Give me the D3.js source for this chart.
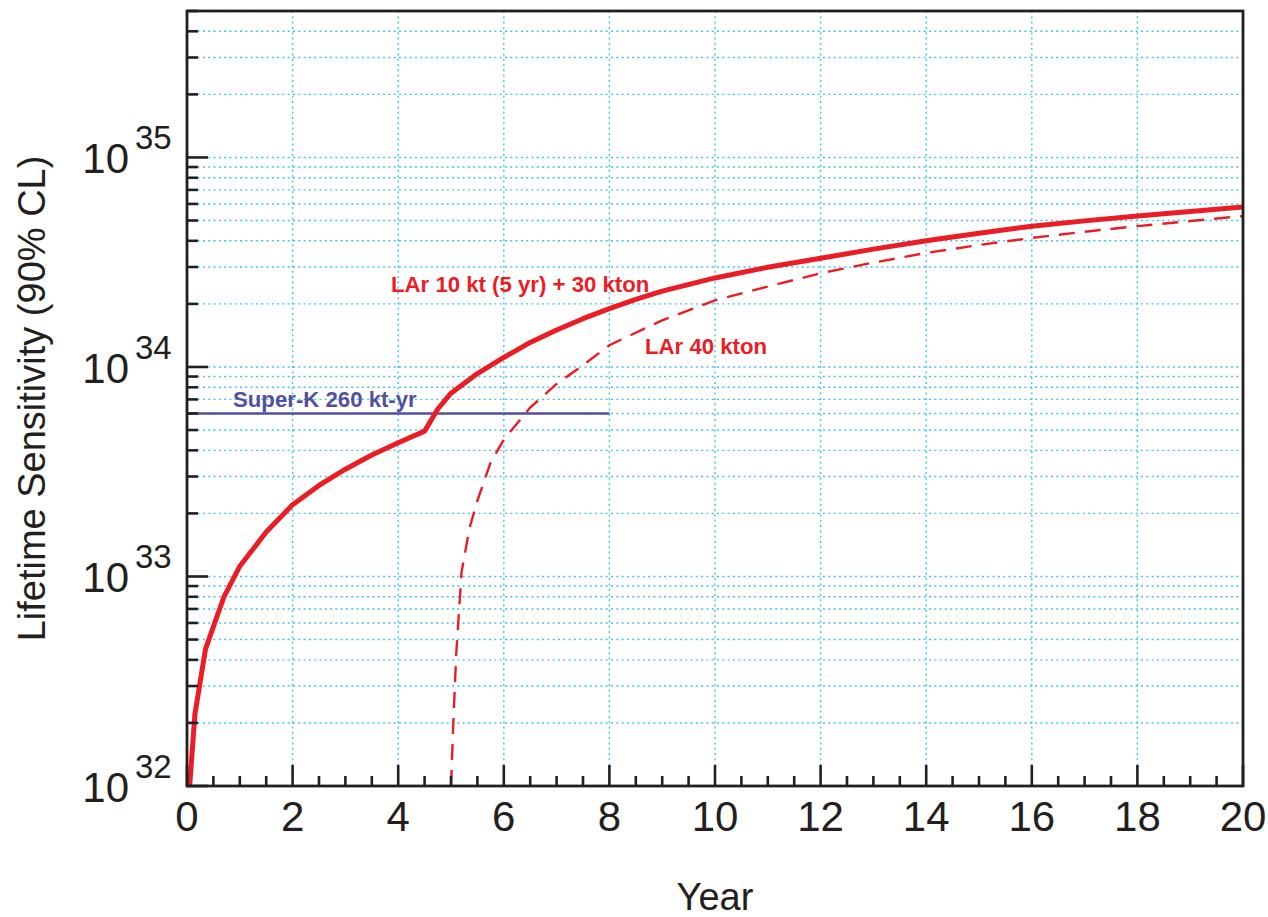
<!DOCTYPE html>
<html>
<head>
<meta charset="utf-8">
<script src="https://cdn.jsdelivr.net/npm/d3@7"></script>
<style>
  html, body { margin: 0; padding: 0; background: #fff; }
  svg { display: block; }
  text { font-family: "Liberation Sans", Arial, Helvetica, sans-serif; }
</style>
</head>
<body>
<svg id="chart" width="1268" height="917"></svg>
<script>
// ---------------- data ----------------
const solidYears  = [0.05, 0.15, 0.35, 0.7, 1.0, 1.5, 2.0, 2.5, 3.0, 3.5, 4.0, 4.5, 4.75, 5.0, 5.5, 6.0, 6.5, 7.0, 7.5, 8.0, 8.5, 9.0, 10, 11, 12, 13, 14, 15, 16, 17, 18, 19, 20];
const solidValues = [1.0e32, 2.2e32, 4.5e32, 8.0e32, 1.12e33, 1.63e33, 2.2e33, 2.72e33, 3.25e33, 3.8e33, 4.35e33, 4.94e33, 6.3e33, 7.5e33, 9.3e33, 1.11e34, 1.31e34, 1.5e34, 1.7e34, 1.9e34, 2.1e34, 2.3e34, 2.66e34, 2.99e34, 3.3e34, 3.65e34, 4.0e34, 4.35e34, 4.7e34, 4.98e34, 5.25e34, 5.52e34, 5.8e34];

const dashedYears  = [5.0, 5.05, 5.1, 5.2, 5.35, 5.5, 5.75, 6.0, 6.5, 7.0, 7.5, 8.0, 9.0, 10, 11, 12, 13, 14, 15, 16, 17, 18, 19, 20];
const dashedValues = [1.0e32, 2.2e32, 4.3e32, 1.05e33, 1.7e33, 2.3e33, 3.5e33, 4.5e33, 6.4e33, 8.3e33, 1.02e34, 1.27e34, 1.67e34, 2.08e34, 2.42e34, 2.8e34, 3.15e34, 3.5e34, 3.82e34, 4.13e34, 4.42e34, 4.7e34, 4.97e34, 5.25e34];

const superKYears = [0, 8];
const superKValue = 6.0e33;

const xTickLabels = [0, 2, 4, 6, 8, 10, 12, 14, 16, 18, 20];
const yDecadeExponents = [32, 33, 34, 35];

const labelSolid  = "LAr 10 kt (5 yr) + 30 kton";
const labelDashed = "LAr 40 kton";
const labelSuperK = "Super-K 260 kt-yr";
const xTitle = "Year";
const yTitle = "Lifetime Sensitivity (90% CL)";

// ---------------- layout ----------------
const svg = d3.select("#chart");
const L = 187, R = 1243, T = 11, B = 786;
const red = "#ec1c24", purple = "#534f9e", gridColor = "#3cc3ee", axisColor = "#231f20";

const x = d3.scaleLinear().domain([0, 20]).range([L, R]);
const y = d3.scaleLog().domain([1e32, 5e35]).range([B, T]);

svg.append("rect").attr("width", 1268).attr("height", 917).attr("fill", "#fff");

// grid
const yTicksAll = y.ticks();
const gGrid = svg.append("g");
gGrid.selectAll("line.hg")
  .data(yTicksAll.filter(v => v > 1.0001e32 && v < 4.999e35))
  .join("line")
  .attr("x1", L).attr("x2", R)
  .attr("y1", d => y(d)).attr("y2", d => y(d))
  .attr("stroke", gridColor).attr("stroke-width", 1.4)
  .attr("stroke-dasharray", "2,3.3");
gGrid.selectAll("line.vg")
  .data(xTickLabels.filter(v => v > 0 && v < 20))
  .join("line")
  .attr("x1", d => x(d)).attr("x2", d => x(d))
  .attr("y1", T).attr("y2", B)
  .attr("stroke", gridColor).attr("stroke-width", 1.4)
  .attr("stroke-dasharray", "2,3.3");

// clip
svg.append("clipPath").attr("id", "clip")
  .append("rect").attr("x", L).attr("y", T).attr("width", R - L).attr("height", B - T);

const line = d3.line().x(d => x(d[0])).y(d => y(d[1]));

const gData = svg.append("g").attr("clip-path", "url(#clip)");

// Super-K
gData.append("path")
  .attr("d", line(superKYears.map(t => [t, superKValue])))
  .attr("fill", "none").attr("stroke", purple).attr("stroke-width", 2.6);

// dashed
gData.append("path")
  .attr("d", line(dashedYears.map((t, i) => [t, dashedValues[i]])))
  .attr("fill", "none").attr("stroke", red).attr("stroke-width", 2.4)
  .attr("stroke-dasharray", "16,10");

// solid
gData.append("path")
  .attr("d", line(solidYears.map((t, i) => [t, solidValues[i]])))
  .attr("fill", "none").attr("stroke", red).attr("stroke-width", 5)
  .attr("stroke-linejoin", "round");

// ticks (inward)
const gAxis = svg.append("g").attr("stroke", axisColor).attr("stroke-width", 2.6);
yTicksAll.forEach(v => {
  const lg = Math.log10(v);
  const major = Math.abs(lg - Math.round(lg)) < 1e-6;
  gAxis.append("line").attr("x1", L).attr("x2", L + (major ? 21 : 11))
    .attr("y1", y(v)).attr("y2", y(v));
});
d3.range(0, 20.001, 0.5).forEach(t => {
  const major = Math.abs(t / 2 - Math.round(t / 2)) < 1e-6;
  gAxis.append("line").attr("x1", x(t)).attr("x2", x(t))
    .attr("y1", B).attr("y2", B - (major ? 21 : 10));
});

// frame
svg.append("rect").attr("x", L).attr("y", T).attr("width", R - L).attr("height", B - T)
  .attr("fill", "none").attr("stroke", axisColor).attr("stroke-width", 2.8);

// x tick labels
svg.append("g").selectAll("text")
  .data(xTickLabels).join("text")
  .attr("x", d => x(d)).attr("y", 831)
  .attr("text-anchor", "middle")
  .attr("font-size", 42).attr("fill", axisColor)
  .text(d => d);

// y tick labels 10^n
const gY = svg.append("g").attr("fill", axisColor);
yDecadeExponents.forEach(e => {
  const yy = y(Math.pow(10, e));
  gY.append("text").attr("x", 129).attr("y", yy + 16)
    .attr("text-anchor", "end").attr("font-size", 42).text("10");
  gY.append("text").attr("x", 135).attr("y", yy - 8)
    .attr("text-anchor", "start").attr("font-size", 33).text(String(e));
});

// axis titles
svg.append("text").attr("x", (L + R) / 2).attr("y", 910)
  .attr("text-anchor", "middle").attr("font-size", 38).attr("fill", axisColor)
  .text(xTitle);
svg.append("text")
  .attr("transform", `translate(45, ${(T + B) / 2}) rotate(-90)`)
  .attr("text-anchor", "middle").attr("font-size", 38).attr("fill", axisColor)
  .text(yTitle);

// curve labels
svg.append("text").attr("x", 391).attr("y", 291.5)
  .attr("font-size", 22.2).attr("font-weight", "bold").attr("fill", red)
  .text(labelSolid);
svg.append("text").attr("x", 645).attr("y", 353.5)
  .attr("font-size", 22.2).attr("font-weight", "bold").attr("fill", red)
  .text(labelDashed);
svg.append("text").attr("x", 233).attr("y", 406.5)
  .attr("font-size", 22.2).attr("font-weight", "bold").attr("fill", purple)
  .text(labelSuperK);
</script>
</body>
</html>
